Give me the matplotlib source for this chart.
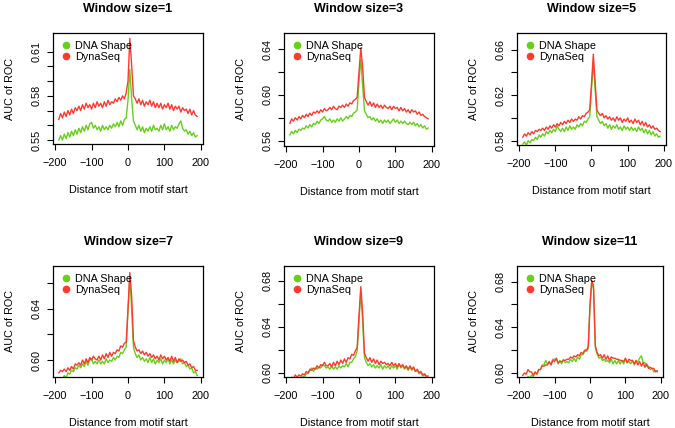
import matplotlib
matplotlib.use("Agg")
import matplotlib.pyplot as plt
from matplotlib.lines import Line2D

plt.rcParams['font.family'] = ['Liberation Sans', 'DejaVu Sans']

distance = list(range(-190, 195, 5))

window_sizes = [1, 3, 5, 7, 9, 11]
series_names = ["DNA Shape", "DynaSeq"]

shape_w1 = [0.550,0.553,0.550,0.554,0.551,0.555,0.552,0.556,0.553,0.557,0.554,
            0.558,0.555,0.559,0.556,0.560,0.557,0.561,0.562,0.558,0.560,0.557,
            0.559,0.556,0.560,0.557,0.559,0.557,0.560,0.558,0.561,0.559,0.562,
            0.559,0.563,0.560,0.564,0.565,0.577,0.598,0.578,0.563,0.560,0.557,
            0.560,0.556,0.559,0.555,0.558,0.556,0.559,0.556,0.560,0.557,0.558,
            0.556,0.560,0.557,0.561,0.557,0.559,0.556,0.560,0.557,0.559,0.558,
            0.561,0.563,0.558,0.556,0.557,0.554,0.556,0.553,0.555,0.552,0.553]
dyna_w1 = [0.564,0.568,0.565,0.569,0.566,0.570,0.567,0.571,0.568,0.572,0.570,
           0.573,0.570,0.574,0.571,0.575,0.572,0.574,0.571,0.575,0.572,0.576,
           0.573,0.575,0.572,0.576,0.573,0.577,0.574,0.576,0.575,0.578,0.576,
           0.579,0.577,0.580,0.578,0.582,0.590,0.619,0.601,0.580,0.578,0.575,
           0.578,0.574,0.577,0.573,0.576,0.574,0.577,0.573,0.576,0.572,0.575,
           0.572,0.575,0.571,0.574,0.572,0.575,0.571,0.574,0.570,0.573,0.571,
           0.573,0.569,0.572,0.570,0.571,0.568,0.571,0.567,0.570,0.567,0.566]

shape_w3 = [0.565,0.568,0.566,0.569,0.567,0.570,0.569,0.571,0.570,0.573,0.571,
            0.574,0.572,0.575,0.574,0.577,0.575,0.578,0.579,0.581,0.578,0.577,
            0.579,0.576,0.578,0.576,0.579,0.577,0.580,0.577,0.579,0.581,0.579,
            0.582,0.581,0.584,0.585,0.587,0.612,0.631,0.608,0.586,0.583,0.580,
            0.581,0.578,0.580,0.577,0.579,0.576,0.578,0.575,0.578,0.576,0.578,
            0.575,0.577,0.579,0.576,0.578,0.575,0.577,0.575,0.577,0.575,0.574,
            0.576,0.574,0.576,0.573,0.575,0.572,0.574,0.571,0.573,0.570,0.571]
dyna_w3 = [0.575,0.579,0.577,0.580,0.578,0.581,0.579,0.582,0.580,0.583,0.581,
           0.584,0.582,0.585,0.584,0.586,0.584,0.587,0.585,0.588,0.586,0.587,
           0.589,0.587,0.590,0.588,0.587,0.590,0.589,0.591,0.589,0.592,0.590,
           0.593,0.592,0.595,0.596,0.598,0.620,0.641,0.624,0.598,0.594,0.591,
           0.594,0.590,0.593,0.589,0.592,0.589,0.591,0.588,0.591,0.589,0.588,
           0.590,0.587,0.590,0.588,0.589,0.586,0.589,0.586,0.588,0.585,0.587,
           0.584,0.587,0.585,0.586,0.583,0.585,0.582,0.583,0.581,0.580,0.579]

shape_w5 = [0.577,0.579,0.576,0.580,0.578,0.581,0.580,0.583,0.581,0.585,0.583,
            0.586,0.584,0.588,0.586,0.589,0.587,0.590,0.588,0.593,0.590,0.588,
            0.591,0.588,0.592,0.589,0.593,0.590,0.592,0.590,0.594,0.592,0.595,
            0.593,0.597,0.596,0.599,0.601,0.625,0.649,0.625,0.601,0.598,0.595,
            0.597,0.593,0.595,0.591,0.594,0.590,0.593,0.591,0.594,0.590,0.592,
            0.589,0.593,0.590,0.592,0.589,0.592,0.589,0.591,0.588,0.592,0.589,
            0.591,0.587,0.590,0.586,0.589,0.585,0.588,0.584,0.586,0.583,0.584]
dyna_w5 = [0.583,0.586,0.584,0.587,0.585,0.588,0.586,0.589,0.588,0.590,0.589,
           0.591,0.589,0.592,0.590,0.593,0.591,0.594,0.592,0.595,0.593,0.596,
           0.594,0.597,0.595,0.598,0.596,0.599,0.597,0.599,0.598,0.601,0.599,
           0.602,0.601,0.604,0.605,0.607,0.630,0.656,0.632,0.607,0.604,0.602,
           0.604,0.600,0.602,0.599,0.601,0.598,0.600,0.597,0.601,0.598,0.600,
           0.596,0.599,0.597,0.600,0.596,0.598,0.595,0.599,0.596,0.598,0.594,
           0.597,0.593,0.596,0.592,0.594,0.591,0.593,0.590,0.591,0.589,0.588]

shape_w7 = [0.584,0.586,0.585,0.588,0.586,0.590,0.589,0.592,0.591,0.594,0.593,
            0.596,0.594,0.597,0.595,0.599,0.596,0.600,0.601,0.597,0.599,0.597,
            0.600,0.597,0.599,0.597,0.601,0.598,0.600,0.599,0.602,0.600,0.603,
            0.602,0.606,0.605,0.608,0.610,0.638,0.664,0.640,0.610,0.605,0.602,
            0.604,0.600,0.602,0.599,0.601,0.598,0.602,0.598,0.601,0.597,0.600,
            0.598,0.601,0.597,0.600,0.598,0.601,0.597,0.600,0.597,0.600,0.598,
            0.599,0.601,0.597,0.598,0.595,0.596,0.593,0.594,0.590,0.591,0.588]
dyna_w7 = [0.590,0.592,0.591,0.593,0.591,0.594,0.592,0.595,0.593,0.597,0.596,
           0.598,0.596,0.600,0.597,0.601,0.598,0.602,0.600,0.603,0.601,0.600,
           0.603,0.600,0.604,0.601,0.605,0.602,0.606,0.603,0.606,0.605,0.608,
           0.607,0.611,0.610,0.613,0.614,0.640,0.668,0.650,0.615,0.610,0.607,
           0.608,0.605,0.607,0.604,0.606,0.603,0.605,0.602,0.604,0.601,0.603,
           0.600,0.604,0.601,0.603,0.600,0.602,0.599,0.603,0.599,0.602,0.598,
           0.601,0.599,0.600,0.598,0.599,0.596,0.597,0.594,0.595,0.592,0.592]

shape_w9 = [0.590,0.592,0.591,0.594,0.593,0.596,0.595,0.597,0.596,0.599,0.599,
            0.602,0.604,0.601,0.604,0.603,0.605,0.604,0.607,0.606,0.604,0.605,
            0.603,0.606,0.603,0.605,0.603,0.606,0.604,0.606,0.605,0.608,0.605,
            0.609,0.609,0.612,0.614,0.619,0.645,0.671,0.645,0.613,0.609,0.606,
            0.608,0.605,0.607,0.604,0.606,0.604,0.607,0.603,0.606,0.604,0.606,
            0.603,0.606,0.604,0.606,0.603,0.607,0.604,0.606,0.603,0.605,0.602,
            0.605,0.602,0.604,0.601,0.602,0.599,0.600,0.597,0.598,0.596,0.595]
dyna_w9 = [0.594,0.596,0.595,0.598,0.596,0.598,0.597,0.599,0.598,0.601,0.600,
           0.603,0.602,0.604,0.603,0.606,0.604,0.607,0.606,0.609,0.606,0.606,
           0.608,0.605,0.609,0.606,0.610,0.607,0.611,0.608,0.612,0.609,0.613,
           0.612,0.616,0.615,0.619,0.622,0.650,0.675,0.652,0.617,0.613,0.610,
           0.613,0.609,0.612,0.608,0.611,0.607,0.610,0.608,0.609,0.607,0.608,
           0.606,0.609,0.606,0.608,0.605,0.608,0.605,0.607,0.604,0.606,0.603,
           0.606,0.603,0.605,0.601,0.603,0.600,0.601,0.598,0.599,0.597,0.597]

shape_w11 = [0.594,0.596,0.594,0.597,0.596,0.598,0.597,0.600,0.599,0.603,0.603,
             0.607,0.607,0.611,0.608,0.609,0.608,0.612,0.612,0.612,0.608,0.611,
             0.608,0.612,0.609,0.610,0.609,0.612,0.610,0.613,0.610,0.614,0.612,
             0.616,0.616,0.619,0.619,0.621,0.658,0.680,0.673,0.622,0.617,0.613,
             0.614,0.611,0.612,0.610,0.611,0.609,0.612,0.608,0.611,0.608,0.611,
             0.608,0.611,0.608,0.612,0.609,0.610,0.608,0.611,0.607,0.610,0.610,
             0.613,0.615,0.609,0.609,0.606,0.606,0.603,0.604,0.601,0.602,0.601]
dyna_w11 = [0.598,0.600,0.599,0.603,0.601,0.601,0.598,0.601,0.599,0.603,0.603,
            0.606,0.606,0.607,0.607,0.610,0.607,0.611,0.610,0.613,0.609,0.610,
            0.610,0.611,0.611,0.612,0.612,0.614,0.613,0.615,0.614,0.616,0.615,
            0.618,0.617,0.620,0.620,0.623,0.660,0.681,0.676,0.624,0.618,0.615,
            0.616,0.613,0.616,0.612,0.615,0.611,0.614,0.613,0.613,0.612,0.612,
            0.611,0.611,0.610,0.613,0.609,0.612,0.611,0.611,0.608,0.611,0.607,
            0.610,0.606,0.609,0.605,0.608,0.604,0.605,0.604,0.604,0.601,0.602]

shape_series = [shape_w1, shape_w3, shape_w5, shape_w7, shape_w9, shape_w11]
dyna_series = [dyna_w1, dyna_w3, dyna_w5, dyna_w7, dyna_w9, dyna_w11]

# per-panel axis settings
ylims = [(0.5473, 0.6227), (0.5553, 0.654), (0.5762, 0.6746),
         (0.5868, 0.6732), (0.5962, 0.693), (0.5965, 0.6936)]
ytick_sets = [[0.55, 0.56, 0.57, 0.58, 0.59, 0.60, 0.61],
              [0.56, 0.58, 0.60, 0.62, 0.64],
              [0.58, 0.60, 0.62, 0.64, 0.66],
              [0.60, 0.62, 0.64, 0.66],
              [0.60, 0.62, 0.64, 0.66, 0.68],
              [0.60, 0.62, 0.64, 0.66, 0.68]]
ylabel_sets = [["0.55", "", "", "0.58", "", "", "0.61"],
               ["0.56", "", "0.60", "", "0.64"],
               ["0.58", "", "0.62", "", "0.66"],
               ["0.60", "", "0.64", ""],
               ["0.60", "", "0.64", "", "0.68"],
               ["0.60", "", "0.64", "", "0.68"]]
xticks = [-200, -100, 0, 100, 200]
xtick_labels = ["\u2212200", "\u2212100", "0", "100", "200"]

green = "#66D01A"
red = "#FF3A30"

W, H = 675, 428
fig = plt.figure(figsize=(W / 100, H / 100), dpi=100)

# axes boxes in pixels: (left, top, right, bottom)
boxes = [(53, 33, 203, 144), (284, 33, 434, 146), (517, 33, 666, 145),
         (53, 266, 203, 377), (284, 266, 434, 377), (517, 266, 663, 377)]

for i, (l, t, r, b) in enumerate(boxes):
    ax = fig.add_axes([l / W, 1 - b / H, (r - l) / W, (b - t) / H])
    ax.plot(distance, shape_series[i], color=green, lw=1.0)
    ax.plot(distance, dyna_series[i], color=red, lw=1.0)
    ax.set_xlim(-206, 206)
    ax.set_ylim(*ylims[i])
    ax.set_xticks(xticks)
    ax.set_xticklabels(xtick_labels, fontsize=7.8)
    ax.set_yticks(ytick_sets[i])
    ax.set_yticklabels(ylabel_sets[i], fontsize=7.8, rotation=90, va='center')
    ax.tick_params(axis='x', direction='out', length=4, width=0.8, pad=6)
    ax.tick_params(axis='y', direction='out', length=4, width=0.8, pad=4)
    for s in ax.spines.values():
        s.set_linewidth(0.9)
    ax.set_title(f"Window size={window_sizes[i]}", fontsize=9, fontweight='bold', pad=15)
    ax.set_xlabel("Distance from motif start", fontsize=7.8, labelpad=12)
    ax.set_ylabel("AUC of ROC", fontsize=7.8, labelpad=12)
    handles = [Line2D([], [], marker='o', ls='', color=green, markersize=4.5),
               Line2D([], [], marker='o', ls='', color=red, markersize=4.5)]
    ax.legend(handles, series_names, loc='upper left', frameon=False, fontsize=7.8,
              handletextpad=0.3, labelspacing=0.15, borderaxespad=0.3,
              handlelength=1.0, borderpad=0.4)

fig.savefig("out.png", dpi=100)
